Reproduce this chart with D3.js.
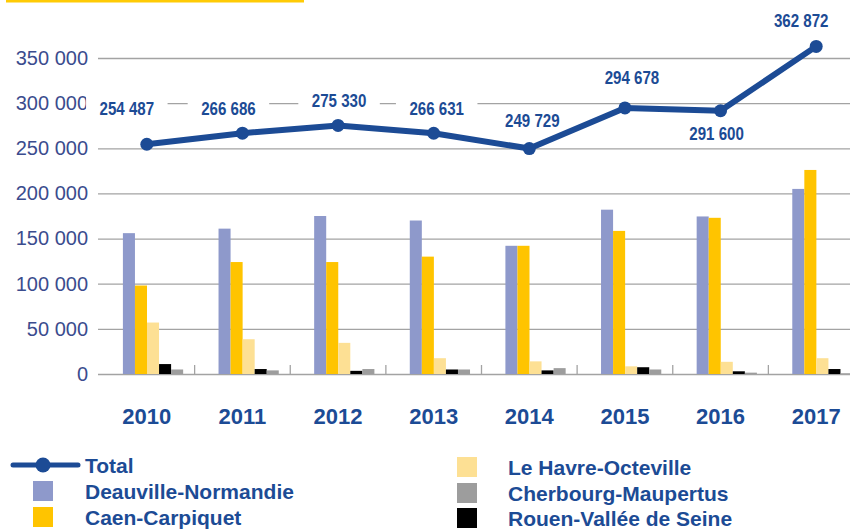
<!DOCTYPE html>
<html>
<head>
<meta charset="utf-8">
<script src="https://cdn.jsdelivr.net/npm/d3@7"></script>
<style>
  html, body { margin: 0; padding: 0; background: #fff; }
  svg { display: block; font-family: "Liberation Sans", Arial, sans-serif; }
</style>
</head>
<body>
<svg id="chart" width="850" height="531"></svg>
<script>
// data
const years = ["2010", "2011", "2012", "2013", "2014", "2015", "2016", "2017"];
const total = [254487, 266686, 275330, 266631, 249729, 294678, 291600, 362872];
const deauville = [156000, 161000, 175000, 170000, 142000, 182000, 174500, 205000];
const caen = [98000, 124000, 124000, 130000, 142000, 158500, 173000, 226000];
const leHavre = [57000, 38500, 34500, 17500, 14000, 8500, 13500, 17500];
const rouen = [11000, 5500, 3500, 5000, 4000, 7500, 3000, 5500];
const cherbourg = [5000, 4000, 5500, 5000, 6500, 5000, 1500, 800];
const yTicks = [0, 50000, 100000, 150000, 200000, 250000, 300000, 350000];

const W = 850, H = 531;
const blue = "#1c4b95";
const series = [
  { name: "Deauville-Normandie", values: deauville, color: "#8e99cb" },
  { name: "Caen-Carpiquet", values: caen, color: "#ffc400" },
  { name: "Le Havre-Octeville", values: leHavre, color: "#fde094" },
  { name: "Rouen-Vallée de Seine", values: rouen, color: "#000000" },
  { name: "Cherbourg-Maupertus", values: cherbourg, color: "#9d9d9d" }
];

// where the value labels sit relative to their point
const labelDx = [-20, -14, 1, 3, 3, 7, -4, -15];
const labelDy = [-36, -25, -25, -25, -28, -30, 23, -26];

const fmt = d3.formatLocale({ decimal: ",", thousands: " ", grouping: [3], currency: ["", ""] }).format(",d");

const svg = d3.select("#chart");

const x0 = d3.scaleBand().domain(years).range([99, 864]).padding(0);
const x1 = d3.scaleBand()
  .domain(series.map(s => s.name))
  .range([x0.bandwidth() * 0.25, x0.bandwidth() * 0.88]);
const y = d3.scaleLinear().domain([0, 350000]).range([374, 58]);

// yellow rule at the top
svg.append("rect")
  .attr("x", 6).attr("y", 0).attr("width", 298).attr("height", 2.5)
  .attr("fill", "#ffcb05");

// y axis with gridlines
const yAxis = svg.append("g")
  .attr("transform", "translate(98,0)")
  .call(d3.axisLeft(y).tickValues(yTicks).tickFormat(fmt).tickSize(-(W - 98)).tickPadding(10));
yAxis.select(".domain").remove();
yAxis.selectAll("line").attr("stroke", "#a3a3a3").attr("stroke-width", 1.3);
yAxis.selectAll("text")
  .attr("fill", "#3b4c8e")
  .style("font-size", "20px")
  .style("font-family", "'Liberation Sans', Arial, sans-serif");

// small ticks between the year groups
svg.append("g").selectAll("line")
  .data(years.slice(1))
  .join("line")
  .attr("x1", d => x0(d)).attr("x2", d => x0(d))
  .attr("y1", y(0)).attr("y2", y(0) - 9)
  .attr("stroke", "#a3a3a3").attr("stroke-width", 1.3);

// bars
const groups = svg.append("g").selectAll("g")
  .data(years)
  .join("g")
  .attr("transform", d => `translate(${x0(d)},0)`);

groups.selectAll("rect")
  .data((d, i) => series.map(s => ({ name: s.name, value: s.values[i], color: s.color })))
  .join("rect")
  .attr("x", d => x1(d.name))
  .attr("width", x1.bandwidth())
  .attr("y", d => y(d.value))
  .attr("height", d => y(0) - y(d.value))
  .attr("fill", d => d.color);

// x axis labels
const xAxis = svg.append("g")
  .attr("transform", `translate(0,${y(0)})`)
  .call(d3.axisBottom(x0).tickSize(0).tickPadding(34));
xAxis.select(".domain").remove();
xAxis.selectAll("text")
  .attr("fill", blue)
  .style("font-size", "22px")
  .style("font-weight", "bold")
  .style("font-family", "'Liberation Sans', Arial, sans-serif");

// total line
const cx = d => x0(d) + x0.bandwidth() / 2;
const pts = years.map((d, i) => ({ year: d, value: total[i], i }));

// value labels with white boxes hiding the gridlines
const labels = svg.append("g").selectAll("g")
  .data(pts)
  .join("g")
  .attr("transform", d => `translate(${cx(d.year) + labelDx[d.i]},${y(d.value) + labelDy[d.i]}) scale(0.84,1)`);

labels.append("text")
  .attr("text-anchor", "middle")
  .attr("dy", "0.36em")
  .attr("fill", blue)
  .style("font-size", "18px")
  .style("font-weight", "bold")
  .text(d => fmt(d.value));

labels.insert("rect", "text")
  .each(function () {
    const b = this.parentNode.querySelector("text").getBBox();
    d3.select(this)
      .attr("x", b.x - 16).attr("y", b.y - 2)
      .attr("width", b.width + 32).attr("height", b.height + 4)
      .attr("fill", "#fff");
  });

svg.append("path")
  .datum(pts)
  .attr("fill", "none")
  .attr("stroke", blue)
  .attr("stroke-width", 6)
  .attr("stroke-linejoin", "round")
  .attr("d", d3.line().x(d => cx(d.year)).y(d => y(d.value)));

svg.append("g").selectAll("circle")
  .data(pts)
  .join("circle")
  .attr("cx", d => cx(d.year))
  .attr("cy", d => y(d.value))
  .attr("r", 6.5)
  .attr("fill", blue);

// legend
const legend = svg.append("g");
legend.append("line")
  .attr("x1", 13).attr("x2", 78).attr("y1", 465).attr("y2", 465)
  .attr("stroke", blue).attr("stroke-width", 5).attr("stroke-linecap", "round");
legend.append("circle").attr("cx", 43).attr("cy", 465).attr("r", 7.5).attr("fill", blue);

const legendItems = [
  { name: "Total", x: 85, y: 465, swatch: null },
  { name: series[0].name, x: 85, y: 491, swatch: series[0].color, sx: 33 },
  { name: series[1].name, x: 85, y: 517, swatch: series[1].color, sx: 33 },
  { name: series[2].name, x: 508, y: 467, swatch: series[2].color, sx: 457 },
  { name: series[4].name, x: 508, y: 493, swatch: series[4].color, sx: 457 },
  { name: series[3].name, x: 508, y: 518, swatch: series[3].color, sx: 457 }
];

legend.selectAll("rect")
  .data(legendItems.filter(d => d.swatch))
  .join("rect")
  .attr("x", d => d.sx).attr("y", d => d.y - 10)
  .attr("width", 20).attr("height", 20)
  .attr("fill", d => d.swatch);

legend.selectAll("text")
  .data(legendItems)
  .join("text")
  .attr("x", d => d.x).attr("y", d => d.y)
  .attr("dy", "0.36em")
  .attr("fill", blue)
  .style("font-size", "21px")
  .style("font-weight", "bold")
  .text(d => d.name);
</script>
</body>
</html>
